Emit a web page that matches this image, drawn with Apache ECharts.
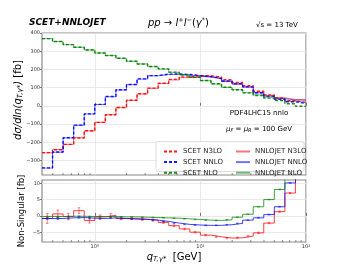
<!DOCTYPE html>
<html><head><meta charset="utf-8">
<script src="https://cdn.jsdelivr.net/npm/echarts@6/dist/echarts.min.js"></script>
<style>html,body{margin:0;padding:0;background:#fff}#c{width:340px;height:272px}</style>
</head><body><div id="c"></div>
<script>
// bin edges in q_T [GeV] (log-spaced, 10 per decade)
const binEdges = [0.31623, 0.39811, 0.50119, 0.63096, 0.79433, 1, 1.2589, 1.5849, 1.9953, 2.5119, 3.1623, 3.9811, 5.0119, 6.3096, 7.9433, 10, 12.589, 15.849, 19.953, 25.119, 31.623, 39.811, 50.119, 63.096, 79.433, 100];

// top panel: dσ/dln(qT) [fb]
const scetN3LO = [-257, -241, -212, -177, -137, -91, -49, -9, 31, 66, 97, 124, 145, 159, 166, 165, 158, 143, 128, 110, 80, 60, 43, 28, 18];
const scetNNLO = [-341, -254, -175, -106, -44, 8, 51, 88, 117, 148, 166, 174, 175, 172, 166, 161, 151, 136, 121, 104, 72, 53, 36, 22, 13];
const scetNLO  = [369, 353, 336, 322, 307, 290, 276, 261, 245, 230, 216, 203, 185, 170, 156, 139, 121, 102, 88, 71, 57, 42, 29, 11, -2];
const nnlojetN3LO = [-258, -240, -212, -175, -138, -91, -49, -10, 30, 65, 96, 122, 142, 155, 161, 159, 152, 136, 121, 104, 75, 58, 44, 35, 33];
const nnlojetNNLO = [-342, -255, -176, -107, -45, 7, 50, 87, 116, 147, 165, 172, 173, 169, 163, 158, 148, 133, 119, 103, 71, 53, 39, 32, 31];
const nnlojetNLO  = [369, 353, 336, 322, 307, 290, 276, 261, 245, 230, 215, 202, 184, 169, 155, 138, 120, 101, 88, 72, 60, 47, 37, 26, 18];

// bottom panel: non-singular [fb]
const nsN3LO = [-0.8, 0.6, -0.2, 1.6, -1.4, -0.3, 0.2, -0.8, -0.8, -1.0, -1.3, -2.0, -3.0, -4.0, -5.0, -5.9, -6.4, -6.8, -6.7, -6.2, -5.2, -2.2, 1.3, 7.0, 15];
const nsNNLO = [-0.8, -0.8, -0.6, -0.5, -0.7, -0.8, -0.6, -0.8, -1.0, -1.1, -1.3, -1.7, -2.2, -2.6, -2.8, -2.9, -2.9, -2.7, -2.3, -1.3, -0.6, 0.4, 2.8, 10.1, 18];
const nsNLO  = [-0.2, -0.2, -0.1, -0.1, -0.2, -0.2, -0.2, -0.3, -0.3, -0.4, -0.5, -0.6, -0.7, -0.9, -1.1, -1.3, -1.4, -1.2, -0.4, 0.5, 2.8, 5.0, 8.1, 15, 20];
const errN3LO = [1.5, 1.2, 1.0, 0.9, 0.8, 0.6, 0.5, 0.4, 0.3, 0.3, 0.3, 0.3, 0.25, 0.25, 0.2, 0.2, 0.2, 0.2, 0.2, 0.2, 0.2, 0.2, 0.2, 0.2, 0.2];
const errNNLO = [0.3, 0.3, 0.25, 0.2, 0.2, 0.2, 0.15, 0.15, 0.1, 0.1, 0.1, 0.1, 0.1, 0.1, 0.1, 0.1, 0.1, 0.1, 0.1, 0.1, 0.1, 0.1, 0.1, 0.1, 0.1];
const errNLO  = [0.15, 0.15, 0.1, 0.1, 0.1, 0.1, 0.1, 0.1, 0.1, 0.1, 0.1, 0.1, 0.1, 0.1, 0.1, 0.1, 0.1, 0.1, 0.1, 0.1, 0.1, 0.1, 0.1, 0.1, 0.1];

// ticks
const xTickValues = [1, 10, 100];
const xTickLabels = {1: '10⁰', 10: '10¹', 100: '10²'};
const xMinorTicks = [0.4, 0.5, 0.6, 0.7, 0.8, 0.9, 2, 3, 4, 5, 6, 7, 8, 9, 20, 30, 40, 50, 60, 70, 80, 90];
const yTopTicks = [-300, -200, -100, 0, 100, 200, 300, 400];
const yBotTicks = [-5, 0, 5, 10];

const RED = '#ff0000', BLUE = '#0000ff', GREEN = '#008000';
const FONT = 'DejaVu Sans';
const Y_TOP = [-380, 400], Y_BOT = [-8, 11], X_RANGE = [0.31623, 100];

function stepData(vals) {
  const d = vals.map((v, i) => [binEdges[i], v]);
  d.push([binEdges[vals.length], vals[vals.length - 1]]);
  return d;
}
function centers(vals, errs) {
  return vals.map((v, i) => [Math.sqrt(binEdges[i] * binEdges[i + 1]), v, errs[i]]);
}
const minus = v => (v < 0 ? '\u2212' : '') + Math.abs(v);

function stepLine(name, vals, color, dashed, grid, opacity) {
  return {
    type: 'line', name: name, xAxisIndex: grid, yAxisIndex: grid,
    data: stepData(vals), step: 'end', symbol: 'none', showSymbol: false,
    lineStyle: { color: color, width: dashed ? 1.4 : 1, type: dashed ? [3, 2] : 'solid', opacity: opacity },
    itemStyle: { color: color },
    z: dashed ? 4 : 3, silent: true, animation: false
  };
}
function errBars(vals, errs, color) {
  return {
    type: 'custom', xAxisIndex: 1, yAxisIndex: 1, data: centers(vals, errs), silent: true,
    clip: true, animation: false, z: 5,
    renderItem: function (params, api) {
      const x = api.value(0), y = api.value(1), e = api.value(2);
      const p1 = api.coord([x, y - e]), p2 = api.coord([x, y + e]);
      const st = { stroke: color, lineWidth: 0.8, opacity: 0.6 };
      return { type: 'group', children: [
        { type: 'line', shape: { x1: p1[0], y1: p1[1], x2: p2[0], y2: p2[1] }, style: st },
        { type: 'line', shape: { x1: p1[0] - 1.3, y1: p1[1], x2: p1[0] + 1.3, y2: p1[1] }, style: st },
        { type: 'line', shape: { x1: p2[0] - 1.3, y1: p2[1], x2: p2[0] + 1.3, y2: p2[1] }, style: st }
      ] };
    }
  };
}
function minorTicks(grid, ymin) {
  return {
    type: 'custom', xAxisIndex: grid, yAxisIndex: grid, silent: true, animation: false, z: 6,
    data: xMinorTicks.map(v => [v, ymin]),
    renderItem: function (params, api) {
      const p = api.coord([api.value(0), api.value(1)]);
      return { type: 'line', shape: { x1: p[0], y1: p[1], x2: p[0], y2: p[1] - 2 }, style: { stroke: '#444', lineWidth: 0.6 } };
    }
  };
}

const axisLineStyle = { show: false };
const gridBorder = { show: true, borderColor: '#8a8a8a', borderWidth: 1.2, backgroundColor: 'transparent' };
function xAxis(grid, showLabels) {
  return {
    type: 'log', logBase: 10, gridIndex: grid, min: X_RANGE[0], max: X_RANGE[1],
    axisLine: axisLineStyle,
    axisTick: { show: true, inside: true, length: 3, customValues: xTickValues, lineStyle: { color: '#444', width: 0.7 } },
    axisLabel: { show: showLabels, customValues: xTickValues, formatter: v => xTickLabels[Math.round(v)] || '',
      fontSize: 5, fontFamily: FONT, color: '#333', margin: 2 },
    splitLine: { show: true, lineStyle: { color: '#e3e3e3', width: 0.8 } }
  };
}
function yAxis(grid, range, ticks) {
  return {
    type: 'value', gridIndex: grid, min: range[0], max: range[1],
    axisLine: axisLineStyle,
    axisTick: { show: true, inside: false, length: 2, customValues: ticks, lineStyle: { color: '#444', width: 0.7 } },
    axisLabel: { customValues: ticks, formatter: minus, fontSize: 5, fontFamily: FONT, color: '#333', margin: 2 },
    splitLine: { show: true, lineStyle: { color: '#e3e3e3', width: 0.8 } }
  };
}

const legendCommon = {
  orient: 'vertical', itemWidth: 14, itemHeight: 6, itemGap: 3.6, selectedMode: false,
  textStyle: { fontSize: 7, fontFamily: FONT, color: '#222', lineHeight: 6 },
  itemStyle: { color: 'transparent', borderWidth: 0, opacity: 0 }
};

const chart = echarts.init(document.getElementById('c'), null, { renderer: 'canvas' });
chart.setOption({
  animation: false,
  backgroundColor: '#fff',
  grid: [
    Object.assign({ left: 42, top: 33, width: 264, height: 142 }, gridBorder),
    Object.assign({ left: 42, top: 180, width: 264, height: 62 }, gridBorder)
  ],
  xAxis: [xAxis(0, false), xAxis(1, true)],
  yAxis: [yAxis(0, Y_TOP, yTopTicks), yAxis(1, Y_BOT, yBotTicks)],
  legend: [
    Object.assign({ data: ['SCET N3LO', 'SCET NNLO', 'SCET NLO'], left: 158, top: 143 }, legendCommon),
    Object.assign({ data: ['NNLOJET N3LO', 'NNLOJET NNLO', 'NNLOJET NLO'], left: 230, top: 143 }, legendCommon)
  ],
  graphic: [
    { type: 'rect', z: 3, shape: { x: 156, y: 141.5, width: 148, height: 30, r: 2 },
      style: { fill: 'rgba(255,255,255,0.85)', stroke: '#d6d6d6', lineWidth: 0.8 } },
    { type: 'text', x: 29, y: 23, style: { text: 'SCET+NNLOJET', fontSize: 9, fontWeight: 'bold', fontStyle: 'italic',
      fontFamily: FONT, fill: '#000', textAlign: 'left', textVerticalAlign: 'middle' } },
    { type: 'text', x: 148, y: 23, style: { text: '{i|pp}{n| → }{i|l}{s|+}{i|l}{s|−}{n|(}{i|γ}{s|*}{n|)}',
      fontFamily: FONT, fill: '#000', textAlign: 'left', textVerticalAlign: 'middle',
      rich: { i: { fontSize: 10, fontStyle: 'italic', fontFamily: FONT, lineHeight: 12 },
              n: { fontSize: 10, fontFamily: FONT, lineHeight: 12 },
              s: { fontSize: 6.5, fontFamily: FONT, lineHeight: 6, verticalAlign: 'top' } } } },
    { type: 'text', x: 256, y: 25, style: { text: '√s = 13 TeV', fontSize: 7, fontFamily: FONT, fill: '#000',
      textAlign: 'left', textVerticalAlign: 'middle' } },
    { type: 'text', x: 259, y: 113, z: 7, style: { text: 'PDF4LHC15 nnlo', fontSize: 7, fontFamily: FONT, fill: '#000',
      textAlign: 'center', textVerticalAlign: 'middle' } },
    { type: 'text', x: 259, y: 129, z: 7, style: { text: '{i|μ}{b|F}{n| = }{i|μ}{b|R}{n| = 100 GeV}',
      textAlign: 'center', textVerticalAlign: 'middle', fill: '#000',
      rich: { i: { fontSize: 7, fontStyle: 'italic', fontFamily: FONT, lineHeight: 9 },
              n: { fontSize: 7, fontFamily: FONT, lineHeight: 9 },
              b: { fontSize: 5, fontStyle: 'italic', fontFamily: FONT, lineHeight: 5, verticalAlign: 'bottom' } } } },
    { type: 'text', x: 18, y: 100, rotation: Math.PI / 2, style: { text: '{i|dσ/dln(q}{b|T,γ*}{i|)}{n| [fb]}',
      textAlign: 'center', textVerticalAlign: 'middle', fill: '#000',
      rich: { i: { fontSize: 10, fontStyle: 'italic', fontFamily: FONT, lineHeight: 12 },
              n: { fontSize: 10, fontFamily: FONT, lineHeight: 12 },
              b: { fontSize: 7, fontStyle: 'italic', fontFamily: FONT, lineHeight: 7, verticalAlign: 'bottom' } } } },
    { type: 'text', x: 22, y: 211, rotation: Math.PI / 2, style: { text: 'Non-Singular [fb]', fontSize: 8.5,
      fontFamily: FONT, fill: '#000', textAlign: 'center', textVerticalAlign: 'middle' } },
    { type: 'text', x: 174, y: 257, style: { text: '{i|q}{b|T,γ*}{n|  [GeV]}',
      textAlign: 'center', textVerticalAlign: 'middle', fill: '#000',
      rich: { i: { fontSize: 10, fontStyle: 'italic', fontFamily: FONT, lineHeight: 12 },
              n: { fontSize: 10, fontFamily: FONT, lineHeight: 12 },
              b: { fontSize: 7, fontStyle: 'italic', fontFamily: FONT, lineHeight: 7, verticalAlign: 'bottom' } } } }
  ],
  series: [
    stepLine('NNLOJET N3LO', nnlojetN3LO, RED, false, 0, 0.55),
    stepLine('NNLOJET NNLO', nnlojetNNLO, BLUE, false, 0, 0.55),
    stepLine('NNLOJET NLO', nnlojetNLO, GREEN, false, 0, 0.55),
    stepLine('SCET N3LO', scetN3LO, RED, true, 0, 0.9),
    stepLine('SCET NNLO', scetNNLO, BLUE, true, 0, 0.9),
    stepLine('SCET NLO', scetNLO, GREEN, true, 0, 0.9),
    stepLine('ns N3LO', nsN3LO, RED, false, 1, 0.75),
    stepLine('ns NNLO', nsNNLO, BLUE, false, 1, 0.75),
    stepLine('ns NLO', nsNLO, GREEN, false, 1, 0.75),
    errBars(nsN3LO, errN3LO, RED),
    errBars(nsNNLO, errNNLO, BLUE),
    errBars(nsNLO, errNLO, GREEN),
    minorTicks(0, Y_TOP[0]),
    minorTicks(1, Y_BOT[0])
  ]
});
</script></body></html>
